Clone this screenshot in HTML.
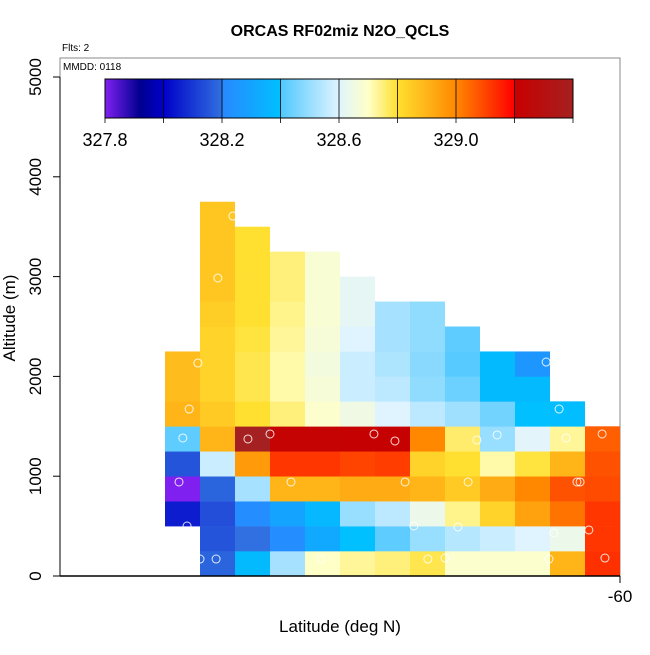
<!DOCTYPE html>
<html><head><meta charset="utf-8"><style>
body{margin:0;background:#fff;}
svg text{font-family:"Liberation Sans",Arial,sans-serif;}
</style></head><body>
<svg id="chart" width="650" height="650" xmlns="http://www.w3.org/2000/svg">
<rect width="650" height="650" fill="#fff"/>
<text x="340" y="36" text-anchor="middle" font-size="16" font-weight="bold">ORCAS RF02miz N2O_QCLS</text>
<text x="62" y="51" font-size="10">Flts: 2</text>
<rect x="60" y="58" width="560" height="518" fill="none" stroke="#888" stroke-width="1"/>
<text x="63" y="70" font-size="10">MMDD: 0118</text>
<g id="cells"></g>
<g id="pts"></g>
<g id="axes"></g>
<g id="cbar"></g>
<text transform="translate(15,318) rotate(-90)" text-anchor="middle" font-size="17">Altitude (m)</text>
<text x="340" y="632" text-anchor="middle" font-size="17">Latitude (deg N)</text>
</svg>
<script>
// data: one array per latitude column (-73..-61), values from bottom altitude bin (250 m bins) upward
const latBins = [-73,-72,-71,-70,-69,-68,-67,-66,-65,-64,-63,-62,-61];
const startBin = [2,0,0,0,0,0,0,0,0,0,0,0,0];
const col0 = [328.05,327.8,328.15,328.42,328.9,328.88,328.88];
const col1 = [328.18,328.15,328.14,328.18,328.57,328.9,328.85,328.83,328.83,328.83,328.84,328.86,328.86,328.86,328.86];
const col2 = [328.38,328.2,328.22,328.52,328.96,329.4,328.8,328.78,328.78,328.79,328.8,328.8,328.8,328.8];
const col3 = [328.52,328.22,328.3,328.9,329.12,329.22,328.75,328.72,328.72,328.73,328.74,328.75,328.75];
const col4 = [328.7,328.32,328.37,328.9,329.12,329.22,328.69,328.67,328.66,328.67,328.68,328.68,328.68];
const col5 = [328.73,328.4,328.5,328.92,329.1,329.21,328.65,328.57,328.57,328.6,328.62,328.62];
const col6 = [328.75,328.42,328.55,328.92,329.11,329.21,328.6,328.55,328.53,328.52,328.52];
const col7 = [328.78,328.5,328.64,328.9,328.83,329.0,328.55,328.49,328.48,328.49,328.49];
const col8 = [328.69,328.54,328.74,328.85,328.8,328.76,328.51,328.44,328.41,328.42];
const col9 = [328.69,328.57,328.83,328.92,328.72,328.5,328.45,328.38,328.38];
const col10 = [328.69,328.6,328.94,329.0,328.79,328.61,328.4,328.38,328.25];
const col11 = [328.9,328.64,329.03,329.08,328.9,328.73,328.39];
const col12 = [329.13,329.12,329.12,329.09,329.08,329.06];
const cols = [col0,col1,col2,col3,col4,col5,col6,col7,col8,col9,col10,col11,col12];
const ptLat = [-71.06,-71.49,-72.06,-72.31,-72.49,-70.63,-70.0,-67.03,-66.43,-72.6,-69.4,-72.37,-72.0,-71.54,-68.54,-62.11,-61.74,-64.09,-63.51,-61.54,-60.51,-66.14,-64.34,-61.23,-61.14,-65.89,-64.63,-61.89,-60.89,-65.49,-65.0,-62.03,-60.43];
const ptAlt = [3607,2986,2134,1673,1383,1373,1423,1423,1353,942,942,501,170,170,170,2144,1673,1363,1413,1383,1423,942,942,942,942,501,491,431,461,170,180,170,180];
const yTicks = [0,1000,2000,3000,4000,5000];
const xTicks = [-60];
const cbTicks = [327.8,328.0,328.2,328.4,328.6,328.8,329.0,329.2,329.4];
const cbLabels = ["327.8","328.2","328.6","329.0"];

const NS='http://www.w3.org/2000/svg';
const X = lat => 620 + (lat + 60) * 35;
const Y = alt => 576 - alt * 0.0998;
const CB = v => 105 + (v - 327.8) / 1.6 * 468;
const stops = [[327.8,[128,32,240]],[327.92,[0,0,144]],[328.0,[0,0,200]],[328.2,[48,112,224]],[328.201,[40,136,255]],[328.4,[0,192,255]],[328.401,[80,200,255]],[328.6,[224,244,255]],[328.7,[255,255,200]],[328.8,[255,224,48]],[329.0,[255,136,0]],[329.2,[255,0,0]],[329.201,[200,0,0]],[329.4,[165,32,32]]];
function cmap(v){
  if(v<=stops[0][0]) return 'rgb('+stops[0][1]+')';
  for(let i=1;i<stops.length;i++){
    if(v<=stops[i][0]){
      const a=stops[i-1],b=stops[i],t=(v-a[0])/(b[0]-a[0]);
      return 'rgb('+a[1].map((c,k)=>Math.round(c+(b[1][k]-c)*t)).join(',')+')';
    }
  }
  return 'rgb('+stops[stops.length-1][1]+')';
}
function mk(tag,attrs,parent){const e=document.createElementNS(NS,tag);for(const k in attrs)e.setAttribute(k,attrs[k]);parent.appendChild(e);return e;}

const gc=document.getElementById('cells');
cols.forEach((col,i)=>{
  col.forEach((v,j)=>{
    const b=startBin[i]+j;
    const r=mk('rect',{x:X(latBins[i]),y:Y((b+1)*250),width:X(latBins[i]+1)-X(latBins[i]),height:Y(b*250)-Y((b+1)*250)+0.3,fill:cmap(v)},gc);
    
    
  });
});
const gp=document.getElementById('pts');
ptLat.forEach((la,i)=>{
  const c=mk('circle',{cx:X(la),cy:Y(ptAlt[i]),r:4,fill:'none',stroke:'#fff','stroke-width':1,opacity:0.85},gp);
  
  
});
const ga=document.getElementById('axes');
mk('line',{x1:60,y1:576,x2:620,y2:576,stroke:'#000','stroke-width':1.5},ga);
mk('line',{x1:60,y1:Y(0),x2:60,y2:Y(5000),stroke:'#000'},ga);
yTicks.forEach(t=>{
  mk('line',{x1:53,y1:Y(t),x2:60,y2:Y(t),stroke:'#000'},ga);
  const tx=mk('text',{transform:'translate(41,'+Y(t)+') rotate(-90)','text-anchor':'middle','font-size':17},ga);
  tx.textContent=t;
  
  
});
xTicks.forEach(t=>{
  mk('line',{x1:X(t),y1:576,x2:X(t),y2:583,stroke:'#000'},ga);
  const tx=mk('text',{x:X(t),y:602,'text-anchor':'middle','font-size':17},ga);
  tx.textContent=t;
  
  
});
const gb=document.getElementById('cbar');
for(let p=105;p<573;p++){
  const v=327.8+(p-105+0.5)/468*1.6;
  mk('rect',{x:p,y:79,width:1.2,height:39,fill:cmap(v)},gb);
}
mk('rect',{x:105,y:79,width:468,height:39,fill:'none',stroke:'#000','stroke-width':1},gb);
cbTicks.forEach(t=>{
  mk('line',{x1:CB(t),y1:79,x2:CB(t),y2:123,stroke:'#000','stroke-width':0.8},gb);
});
cbLabels.forEach(s=>{
  const tx=mk('text',{x:CB(parseFloat(s)),y:146,'text-anchor':'middle','font-size':18},gb);
  tx.textContent=s;
  
  
});
</script>
</body></html>
